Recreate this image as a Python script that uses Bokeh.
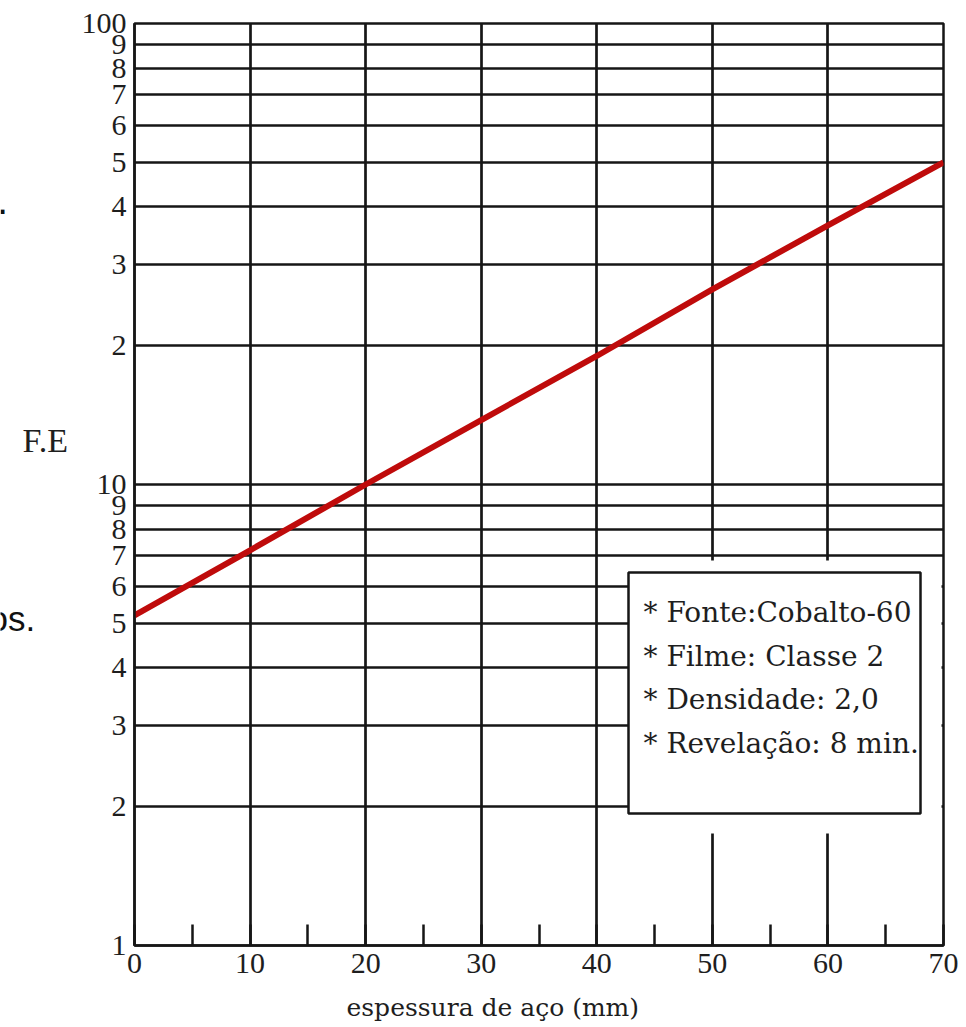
from bokeh.plotting import figure
from bokeh.layouts import row
from bokeh.models import FixedTicker, BoxAnnotation, Label, Range1d, Title
from bokeh.embed import file_html
from bokeh.resources import INLINE

# ---------------- data ----------------
thickness_mm = [0, 10, 20, 30, 40, 50, 60, 70]
fe_values = [5.2, 7.2, 10.0, 13.8, 19.0, 26.5, 36.5, 50.0]

x_tick_values = [0, 5, 10, 15, 20, 25, 30, 35, 40, 45, 50, 55, 60, 65, 70]
x_tick_labels = ["0", "", "10", "", "20", "", "30", "", "40", "", "50", "", "60", "", "70"]
x_grid_values = [10, 20, 30, 40, 50, 60]

y_tick_values = [1, 2, 3, 4, 5, 6, 7, 8, 9, 10, 20, 30, 40, 50, 60, 70, 80, 90, 100]
y_tick_labels = ["1", "2", "3", "4", "5", "6", "7", "8", "9", "10",
                 "2", "3", "4", "5", "6", "7", "8", "9", "100"]
y_grid_values = [2, 3, 4, 5, 6, 7, 8, 9, 10, 20, 30, 40, 50, 60, 70, 80, 90]

legend_lines = ["* Fonte:Cobalto-60", "* Filme: Classe  2",
                "* Densidade: 2,0", "* Revelação: 8 min."]
x_axis_title = "espessura de aço (mm)"
y_axis_title = "F.E"
stray_texts = ["os.", "."]

# ---------------- layout (canvas pixels) ----------------
PAGE_W, PAGE_H = 958, 1027
SIDE_W = 76                      # narrow strip left of the chart (y title, stray text)
FRAME_L, FRAME_R, FRAME_T, FRAME_B = 134, 943, 23, 945
X0, X1, Y0, Y1 = 0, 70, 1, 100
PX_PER_X = (FRAME_R - FRAME_L) / (X1 - X0)
PX_PER_DEC = (FRAME_B - FRAME_T) / 2.0


def dx(px):
    return X0 + (px - FRAME_L) / PX_PER_X


def dy(py):
    return 10 ** ((FRAME_B - py) / PX_PER_DEC)


SERIF = "DejaVu Serif"
NUM_FONT = "Liberation Serif"
INK = "#161616"
TXT = "#1e1e1e"

# ---------------- left strip (same vertical frame as the chart) ----------------
side = figure(
    x_range=Range1d(0, SIDE_W), y_range=Range1d(FRAME_B, FRAME_T),
    frame_width=SIDE_W, frame_height=FRAME_B - FRAME_T,
    min_border_left=0, min_border_right=0,
    min_border_top=FRAME_T, min_border_bottom=PAGE_H - FRAME_B,
    x_axis_location=None, y_axis_location=None,
    output_backend="svg", toolbar_location=None,
    background_fill_color="white", border_fill_color="white",
)
side.outline_line_color = None
side.grid.visible = False
side.add_layout(Label(x=22, y=440, text=y_axis_title, text_font=NUM_FONT,
                      text_font_size="34px", text_color=TXT,
                      text_align="left", text_baseline="alphabetic"))
side.add_layout(Label(x=-12, y=618, text=stray_texts[0], text_font="Liberation Sans",
                      text_font_size="35px", text_color="#111111",
                      text_align="left", text_baseline="alphabetic"))
side.add_layout(Label(x=-3.5, y=199, text=stray_texts[1], text_font="Liberation Sans",
                      text_font_size="40px", text_color="#111111",
                      text_align="left", text_baseline="alphabetic"))

# ---------------- main chart ----------------
p = figure(
    x_range=Range1d(X0, X1), y_range=Range1d(Y0, Y1), y_axis_type="log",
    frame_width=FRAME_R - FRAME_L, frame_height=FRAME_B - FRAME_T,
    min_border_left=FRAME_L - SIDE_W, min_border_right=PAGE_W - FRAME_R,
    min_border_top=FRAME_T, min_border_bottom=PAGE_H - FRAME_B,
    output_backend="svg", toolbar_location=None,
    background_fill_color="white", border_fill_color="white",
)
p.outline_line_color = INK
p.outline_line_width = 2.5

# grids
p.xgrid.ticker = FixedTicker(ticks=x_grid_values)
p.ygrid.ticker = FixedTicker(ticks=y_grid_values)
for g in (p.xgrid, p.ygrid):
    g.grid_line_color = INK
    g.grid_line_width = 2.7
    g.grid_line_alpha = 1.0

# x axis
xa = p.xaxis[0]
xa.ticker = FixedTicker(ticks=x_tick_values)
xa.major_label_overrides = {v: l for v, l in zip(x_tick_values, x_tick_labels)}
xa.major_tick_in = 21
xa.major_tick_out = 0
xa.major_tick_line_width = 2.5
xa.major_tick_line_color = INK
xa.minor_tick_line_color = None
xa.axis_line_color = INK
xa.axis_line_width = 2.5
xa.major_label_text_font = NUM_FONT
xa.major_label_text_font_size = "30px"
xa.major_label_text_color = TXT
xa.major_label_standoff = 8

# y axis
ya = p.yaxis[0]
ya.ticker = FixedTicker(ticks=y_tick_values)
ya.major_label_overrides = {float(v): l for v, l in zip(y_tick_values, y_tick_labels)}
ya.major_tick_in = 0
ya.major_tick_out = 0
ya.minor_tick_line_color = None
ya.axis_line_color = INK
ya.axis_line_width = 2.5
ya.major_label_text_font = NUM_FONT
ya.major_label_text_font_size = "30px"
ya.major_label_text_color = TXT
ya.major_label_standoff = 8

# curve
p.line(thickness_mm, fe_values, line_color="#bf0b0b", line_width=6)

# white area behind the legend box (hides the grid there)
p.add_layout(BoxAnnotation(left=dx(628), right=dx(941), top=dy(560), bottom=dy(833),
                           fill_color="white", fill_alpha=1.0, line_color=None,
                           level="annotation"))
# legend frame
p.add_layout(BoxAnnotation(left=dx(628), right=dx(920), top=dy(572), bottom=dy(813),
                           fill_color="white", fill_alpha=1.0, line_color=INK,
                           line_alpha=1.0, line_width=2.5, level="annotation"))

for i, txt in enumerate(legend_lines):
    p.add_layout(Label(x=dx(643), y=dy(612 + 43.7 * i), text=txt,
                       text_font=SERIF, text_font_size="28px", text_color=TXT,
                       text_baseline="middle", text_align="left"))

# x axis title, placed under the axis and shifted left like the original
p.add_layout(Title(text=x_axis_title, align="left", offset=346 - FRAME_L,
                   text_font=SERIF, text_font_size="25px", text_font_style="normal",
                   text_color=TXT, standoff=31), "below")

layout = row(side, p, spacing=0)
open("out.html", "w").write(file_html(layout, INLINE))
